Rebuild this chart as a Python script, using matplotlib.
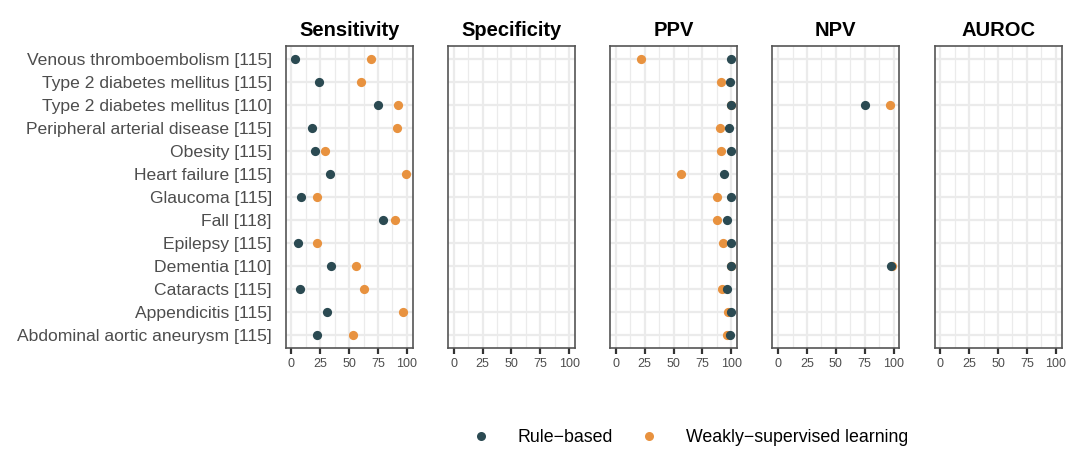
import numpy as np
import matplotlib
matplotlib.use("Agg")
import matplotlib.pyplot as plt
from matplotlib.lines import Line2D

plt.rcParams['font.family'] = ['Liberation Sans', 'DejaVu Sans']

categories = [
    "Venous thromboembolism [115]",
    "Type 2 diabetes mellitus [115]",
    "Type 2 diabetes mellitus [110]",
    "Peripheral arterial disease [115]",
    "Obesity [115]",
    "Heart failure [115]",
    "Glaucoma [115]",
    "Fall [118]",
    "Epilepsy [115]",
    "Dementia [110]",
    "Cataracts [115]",
    "Appendicitis [115]",
    "Abdominal aortic aneurysm [115]",
]
metrics = ["Sensitivity", "Specificity", "PPV", "NPV", "AUROC"]
methods = ["Rule\u2212based", "Weakly\u2212supervised learning"]

nan = np.nan
# values per metric, in category order
sens_rule = [3, 24, 75, 18, 20, 33, 8, 79, 6, 34, 7, 31, 22]
sens_weak = [69, 60, 92, 91, 29, 99, 22, 90, 22, 56, 63, 97, 53]
spec_rule = [nan] * 13
spec_weak = [nan] * 13
ppv_rule = [100, 99, 100, 98, 100, 94, 100, 96, 100, 100, 96, 100, 99]
ppv_weak = [22, 91, 100, 90, 91, 56, 88, 88, 93, 100, 92, 97, 96]
npv_rule = [nan, nan, 75, nan, nan, nan, nan, nan, nan, 98, nan, nan, nan]
npv_weak = [nan, nan, 97, nan, nan, nan, nan, nan, nan, 99, nan, nan, nan]
auroc_rule = [nan] * 13
auroc_weak = [nan] * 13

rule_vals = [sens_rule, spec_rule, ppv_rule, npv_rule, auroc_rule]
weak_vals = [sens_weak, spec_weak, ppv_weak, npv_weak, auroc_weak]
x_ticks = [0, 25, 50, 75, 100]

col_rule = "#2B4A52"
col_weak = "#E8923F"

W, H = 1071, 450
fig = plt.figure(figsize=(W / 100, H / 100), dpi=100)

left0 = 285.7
step = 162.2
pw = 127.0
top = 45.7
bottom = 348.0

ypos = np.arange(1, len(categories) + 1)

for i, m in enumerate(metrics):
    x0 = left0 + i * step
    ax = fig.add_axes([x0 / W, 1 - bottom / H, pw / W, (bottom - top) / H])
    ax.set_xlim(-5, 105)
    ax.set_ylim(len(categories) + 0.55, 0.4)
    ax.set_xticks(x_ticks)
    ax.set_xticklabels([str(t) for t in x_ticks])
    ax.set_xticks([12.5, 37.5, 62.5, 87.5], minor=True)
    ax.set_yticks(ypos)
    if i == 0:
        ax.set_yticklabels(categories, fontsize=12.6, color="#4D4D4D")
    else:
        ax.set_yticklabels([])
    ax.tick_params(axis='y', length=0, pad=10)
    ax.tick_params(axis='x', which='major', length=4, width=1.6, color="#333333",
                   labelsize=9, labelcolor="#4D4D4D", pad=3)
    ax.tick_params(axis='x', which='minor', length=0)
    ax.grid(True, which='major', axis='both', color="#EBEBEB", linewidth=1.6, zorder=0)
    ax.grid(True, which='minor', axis='x', color="#EBEBEB", linewidth=0.9, zorder=0)
    ax.set_axisbelow(True)
    for s in ax.spines.values():
        s.set_color("#555555")
        s.set_linewidth(1.2)
    ax.scatter(weak_vals[i], ypos, s=44, color=col_weak, zorder=3, linewidths=0)
    ax.scatter(rule_vals[i], ypos, s=44, color=col_rule, zorder=4, linewidths=0)
    ax.set_title(m, fontsize=14.5, fontweight='bold', pad=7)

handles = [
    Line2D([], [], marker='o', linestyle='none', markersize=6.5, color=col_rule, markeredgewidth=0),
    Line2D([], [], marker='o', linestyle='none', markersize=6.5, color=col_weak, markeredgewidth=0),
]
fig.legend(handles, methods, loc='center', bbox_to_anchor=(690 / W, 1 - 438 / H),
           ncol=2, frameon=False, fontsize=12.8, handletextpad=1.6, columnspacing=1.5,
           handlelength=1.0)

fig.savefig("out.png", dpi=100, facecolor="white")
